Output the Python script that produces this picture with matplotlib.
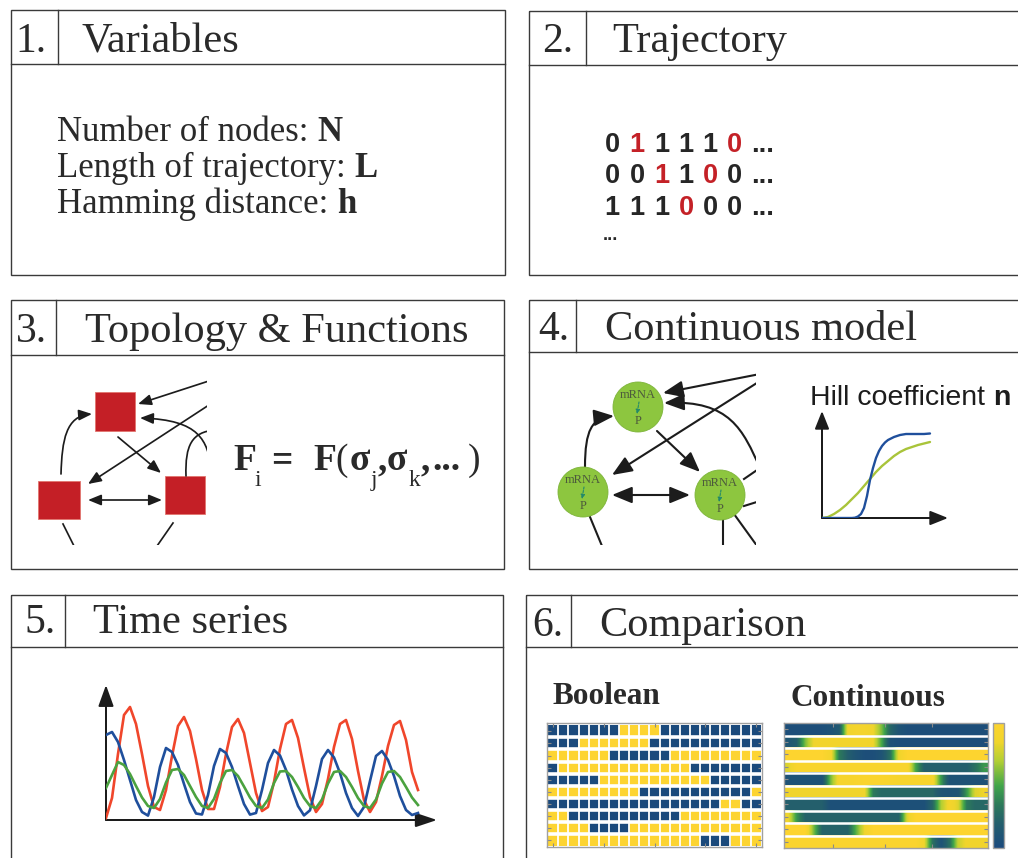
import numpy as np
import matplotlib
matplotlib.use('Agg')
import matplotlib.pyplot as plt
from matplotlib.patches import Rectangle, Circle, FancyArrowPatch
from matplotlib.path import Path
from matplotlib.colors import ListedColormap, LinearSegmentedColormap, Normalize
from matplotlib.cm import ScalarMappable

# ---------------------------------------------------------------- data
panel_numbers = ['1.', '2.', '3.', '4.', '5.', '6.']
panel_titles = ['Variables', 'Trajectory', 'Topology & Functions',
                'Continuous model', 'Time series', 'Comparison']

variable_labels = ['Number of nodes: ', 'Length of trajectory: ', 'Hamming distance: ']
variable_symbols = ['N', 'L', 'h']

trajectory_states = [[0, 1, 1, 1, 1, 0],
                     [0, 0, 1, 1, 0, 0],
                     [1, 1, 1, 0, 0, 0]]
trajectory_flipped = [[0, 1, 0, 0, 0, 1],
                      [0, 0, 1, 0, 1, 0],
                      [0, 0, 0, 1, 0, 0]]

# formula pieces: text, is_subscript, bold
formula_pieces = [('F', False, True), ('i', True, False), ('=', False, True),
                  ('F', False, True), ('(', False, False), ('σ', False, True),
                  ('j', True, False), (',', False, True), ('σ', False, True),
                  ('k', True, False), (',', False, True), ('...', False, True),
                  (')', False, False)]

node_top_label = 'mRNA'
node_bottom_label = 'P'
hill_title = 'Hill coefficient '
hill_symbol = 'n'

hill_input = [0, 6, 12, 18, 24, 30, 33, 36, 39, 42, 45, 48, 51, 54, 57, 60, 63, 66,
              72, 78, 84, 90, 96, 102, 108]
hill_high_n = [0, 0, 0, 0, 0, 0, 0.3, 1.5, 4, 10, 22, 38, 50, 60, 67, 72, 75.5, 78,
               81, 83, 84, 84, 84, 84, 84.5]
hill_low_n = [0, 1, 4, 8, 13, 19, 22, 25, 28.5, 32, 35.5, 39, 42.5, 46, 49, 52, 54.5,
              57, 62, 66, 69, 71, 73, 74.5, 76]

ts_time = [0, 6, 12, 18, 24, 30, 36, 42, 48, 54, 60, 66, 72, 78, 84, 90, 96, 102,
           108, 114, 120, 126, 132, 138, 144, 150, 156, 162, 168, 174, 180, 186,
           192, 198, 204, 210, 216, 222, 228, 234, 240, 246, 252, 258, 264, 270,
           276, 282, 288, 294, 300, 306, 312]
ts_red = [2, 22, 66, 105, 113, 96, 66, 34, 13, 10, 30, 64, 94, 103, 89, 61, 30, 11,
          11, 33, 66, 93, 101, 87, 57, 27, 9, 13, 38, 71, 96, 100, 82, 52, 23, 8,
          16, 41, 73, 96, 100, 81, 49, 20, 8, 18, 44, 74, 95, 99, 80, 48, 30]
ts_blue = [85, 88, 78, 60, 40, 20, 8, 4.4, 23, 53, 72, 68, 55, 36, 18, 6.5, 5.5, 25,
           54, 71, 67, 53, 34, 16, 5.4, 7, 30, 57, 70, 64.5, 50, 30.5, 14, 4.6, 9.7,
           34, 61, 70, 62.5, 47, 27, 12, 4, 13, 39, 64, 69, 60, 44, 24, 10, 5, 7]
ts_green = [32, 45, 58, 55, 46, 34, 22.5, 14, 12, 21, 37.5, 50, 51, 45, 34, 23, 14,
            12, 21, 37, 49, 50, 44, 33.5, 22.5, 14, 12, 20.5, 37, 48.5, 49, 43, 33,
            22, 14, 12, 20.5, 36.5, 48, 49, 43, 33, 22, 14, 12, 20.5, 36.5, 48, 49,
            43, 33, 22.5, 15]

boolean_label = 'Boolean'
continuous_label = 'Continuous'
boolean_states = [
    [1, 1, 1, 1, 1, 1, 1, 0, 0, 0, 0, 1, 1, 1, 1, 1, 1, 1, 1, 1, 1],
    [1, 1, 1, 0, 0, 0, 0, 0, 0, 0, 1, 1, 1, 1, 1, 1, 1, 1, 1, 1, 1],
    [0, 0, 0, 0, 0, 0, 1, 1, 1, 1, 1, 1, 0, 0, 0, 0, 0, 0, 0, 0, 0],
    [1, 0, 0, 0, 0, 0, 0, 0, 0, 0, 0, 0, 0, 0, 1, 1, 1, 1, 1, 1, 1],
    [1, 1, 1, 1, 1, 0, 0, 0, 0, 0, 0, 0, 0, 0, 0, 0, 1, 1, 1, 1, 1],
    [0, 0, 0, 0, 0, 0, 0, 0, 0, 1, 1, 1, 1, 1, 1, 1, 1, 1, 1, 1, 0],
    [1, 1, 1, 1, 1, 1, 1, 1, 1, 1, 1, 1, 1, 1, 1, 1, 1, 0, 0, 1, 1],
    [0, 0, 1, 1, 1, 1, 1, 1, 1, 1, 1, 1, 1, 0, 0, 0, 0, 0, 0, 0, 0],
    [0, 0, 0, 0, 1, 1, 1, 1, 0, 0, 0, 0, 0, 0, 0, 0, 0, 0, 0, 0, 0],
    [0, 0, 0, 0, 0, 0, 0, 0, 0, 0, 0, 0, 0, 0, 0, 1, 1, 1, 0, 0, 0],
]
continuous_levels = [
    [0.05, 0.05, 0.05, 0.05, 0.05, 0.08, 0.15, 0.85, 0.9, 0.9, 0.85, 0.6, 0.25, 0.1,
     0.05, 0.05, 0.05, 0.05, 0.05, 0.05, 0.05, 0.05, 0.05, 0.05],
    [0.12, 0.2, 0.6, 0.85, 0.88, 0.88, 0.88, 0.88, 0.88, 0.88, 0.85, 0.5, 0.08, 0.05,
     0.05, 0.05, 0.05, 0.05, 0.05, 0.05, 0.05, 0.05, 0.05, 0.05],
    [1.0, 1.0, 1.0, 1.0, 1.0, 0.9, 0.35, 0.2, 0.1, 0.05, 0.05, 0.1, 0.3, 0.85, 1.0,
     1.0, 1.0, 1.0, 1.0, 1.0, 1.0, 1.0, 1.0, 1.0],
    [0.8, 0.95, 0.95, 0.95, 0.95, 0.95, 0.95, 0.95, 0.95, 0.95, 0.95, 0.95, 0.95, 0.95,
     0.95, 0.5, 0.2, 0.2, 0.2, 0.2, 0.2, 0.2, 0.3, 0.45],
    [0.08, 0.08, 0.08, 0.08, 0.08, 0.6, 0.92, 0.92, 0.95, 0.97, 0.97, 0.97, 0.95, 0.92,
     0.92, 0.92, 0.92, 0.92, 0.45, 0.08, 0.08, 0.08, 0.08, 0.08],
    [0.85, 0.85, 0.85, 0.85, 0.85, 0.85, 0.85, 0.85, 0.85, 0.85, 0.35, 0.25, 0.25, 0.25,
     0.25, 0.25, 0.25, 0.25, 0.12, 0.1, 0.12, 0.45, 0.8, 0.85],
    [0.2, 0.2, 0.2, 0.2, 0.2, 0.06, 0.06, 0.06, 0.06, 0.06, 0.06, 0.06, 0.06, 0.06,
     0.06, 0.06, 0.06, 0.25, 0.7, 0.9, 0.8, 0.35, 0.25, 0.25],
    [0.85, 0.45, 0.22, 0.22, 0.22, 0.22, 0.22, 0.22, 0.22, 0.22, 0.22, 0.22, 0.22, 0.22,
     0.8, 1.0, 1.0, 1.0, 1.0, 1.0, 1.0, 1.0, 1.0, 1.0],
    [1.0, 1.0, 1.0, 0.6, 0.22, 0.22, 0.22, 0.22, 0.55, 0.85, 1.0, 1.0, 1.0, 1.0, 1.0,
     1.0, 1.0, 1.0, 1.0, 1.0, 1.0, 1.0, 1.0, 1.0],
    [0.97, 0.97, 0.97, 0.97, 0.97, 0.97, 0.97, 0.97, 0.97, 0.97, 0.97, 0.97, 0.97, 0.97,
     0.97, 0.97, 0.85, 0.3, 0.08, 0.3, 0.75, 0.87, 0.87, 0.87],
]

# ---------------------------------------------------------------- styles
W, H = 1018, 858
BOX = '#3a3a3a'
INK = '#1c1c1c'
TXT = '#2a2a2a'
RED = '#c42127'
SQ_RED = '#c41f26'
NODE_GREEN = '#8dc63f'
TS_RED = '#f0462b'
TS_BLUE = '#1f4f9c'
TS_GREEN = '#4ba23f'
HILL_GREEN = '#a9c43a'
BOOL_BLUE = '#1b4a7c'
BOOL_YELLOW = '#fdd431'
SERIF = 'Liberation Serif'
SANS = 'Liberation Sans'

fig = plt.figure(figsize=(W / 100, H / 100), dpi=100)
base = fig.add_axes([0, 0, 1, 1])
base.set_xlim(0, W)
base.set_ylim(H, 0)
base.axis('off')
renderer = fig.canvas.get_renderer()


def px_axes(x0, y0, x1, y1):
    a = fig.add_axes([x0 / W, 1 - y1 / H, (x1 - x0) / W, (y1 - y0) / H])
    a.patch.set_alpha(0)
    return a


def text_end(t):
    bb = t.get_window_extent(renderer=renderer)
    return base.transData.inverted().transform((bb.x1, bb.y0))[0]


def arrow(ax, p0=None, p1=None, lw_px=1.5, hl_px=10, hw_px=8, style='-|>',
          path=None, color=INK, clip=True):
    st = f'{style},head_length={hl_px * 0.72:.2f},head_width={hw_px * 0.36:.2f}'
    if path is not None:
        a = FancyArrowPatch(path=path, arrowstyle=st, mutation_scale=1,
                            lw=lw_px * 0.72, color=color)
    else:
        a = FancyArrowPatch(p0, p1, arrowstyle=st, mutation_scale=1,
                            lw=lw_px * 0.72, color=color, shrinkA=0, shrinkB=0)
    a.set_clip_on(clip)
    ax.add_patch(a)


def curve(pts):
    codes = [Path.MOVETO] + [Path.CURVE4] * (len(pts) - 1)
    return Path(pts, codes)


# ---------------------------------------------------------------- panel boxes
panel_geom = [
    # x0, y0, x1, y1, header_y, divider_x, num_x, title_x, baseline
    (11, 10, 505, 275, 64, 58, 15, 82, 52),
    (529, 11, 1030, 275, 65, 586, 542, 612, 52),
    (11, 300, 504, 569, 355, 56, 16, 85, 342),
    (529, 300, 1030, 569, 352, 576, 538, 605, 340),
    (11, 595, 503, 870, 647, 65, 24, 93, 633),
    (526, 595, 1030, 870, 647, 571, 532, 599, 636),
]
for (x0, y0, x1, y1, hy, dx, nx, tx, bl), num, title in zip(panel_geom, panel_numbers, panel_titles):
    base.add_patch(Rectangle((x0, y0), x1 - x0, y1 - y0, fill=False, ec=BOX, lw=1.0))
    base.plot([x0, x1], [hy, hy], color=BOX, lw=1.0)
    base.plot([dx, dx], [y0, hy], color=BOX, lw=1.0)
    base.text(nx, bl, num, fontsize=30, family=SERIF, color=TXT, va='baseline')
    base.text(tx, bl, title, fontsize=30.5, family=SERIF, color=TXT, va='baseline')

# ---------------------------------------------------------------- panel 1
for i, (lab, sym) in enumerate(zip(variable_labels, variable_symbols)):
    y = 141 + 36 * i
    t = base.text(57, y, lab, fontsize=25, family=SERIF, color=TXT, va='baseline')
    base.text(text_end(t), y, sym, fontsize=25, family=SERIF, fontweight='bold',
              color=TXT, va='baseline')

# ---------------------------------------------------------------- panel 2
col_x = [612, 637, 662, 686, 710, 734]
row_y = [152, 183, 215]
for r, (states, flips) in enumerate(zip(trajectory_states, trajectory_flipped)):
    for c, (s, f) in enumerate(zip(states, flips)):
        base.text(col_x[c], row_y[r], str(s), fontsize=19.5, family=SANS,
                  fontweight='bold', color=RED if f else '#262626', ha='center',
                  va='baseline')
    base.text(751, row_y[r], '...', fontsize=19.5, family=SANS, fontweight='bold',
              color='#262626', va='baseline')
base.text(603, 240, '...', fontsize=13, family=SANS, fontweight='bold',
          color='#262626', va='baseline')

# ---------------------------------------------------------------- panel 3
n3 = px_axes(20, 370, 207, 545)
n3.set_xlim(20, 207)
n3.set_ylim(545, 370)
n3.axis('off')
for (x, y, w, h) in [(95, 392, 40, 39), (38, 481, 42, 38), (165, 476, 40, 38)]:
    n3.add_patch(Rectangle((x, y), w, h, fc=SQ_RED, ec='#e2766f', lw=0.6))
A3 = dict(lw_px=1.7, hl_px=11, hw_px=9)
arrow(n3, (215, 379), (138, 404), **A3)
arrow(n3, (212, 403), (88, 484), **A3)
arrow(n3, (118, 437), (161, 473), **A3)
arrow(n3, (88, 500), (162, 500), style='<|-|>', **A3)
arrow(n3, path=curve([(212, 470), (207, 440), (200, 420), (140, 418)]), **A3)
arrow(n3, path=curve([(61, 474), (62, 440), (66, 416), (92, 414)]), **A3)
p = curve([(186, 476), (185, 445), (192, 432), (215, 430)])
n3.add_patch(FancyArrowPatch(path=p, arrowstyle='-', lw=1.7 * 0.72, color=INK))
n3.plot([63, 74], [524, 546], color=INK, lw=1.7 * 0.72)
n3.plot([173, 157], [523, 546], color=INK, lw=1.7 * 0.72)

# formula F_i = F(sigma_j, sigma_k, ...)
formula_x = [233, 255, 271, 313, 335, 350, 371, 378, 387, 409, 421, 432, 468]
for xp, (s, sub, bold) in zip(formula_x, formula_pieces):
    base.text(xp, 486 if sub else 470, s, fontsize=17 if sub else 27, family=SERIF,
              fontweight='bold' if bold else 'normal', color=TXT, va='baseline')

# ---------------------------------------------------------------- panel 4
n4 = px_axes(545, 372, 756, 545)
n4.set_xlim(545, 756)
n4.set_ylim(545, 372)
n4.axis('off')
A4 = dict(lw_px=2.1, hl_px=17, hw_px=14)
arrow(n4, (760, 374), (663, 393), **A4)
arrow(n4, (760, 381), (612, 475), **A4)
arrow(n4, (657, 431), (700, 472), **A4)
arrow(n4, (612, 495), (690, 495), style='<|-|>', **A4)
arrow(n4, path=curve([(760, 468), (743, 430), (730, 400), (664, 403)]), **A4)
arrow(n4, path=curve([(585, 467), (585, 430), (592, 418), (614, 416)]), **A4)
n4.plot([744, 760], [479, 468], color=INK, lw=1.5)
n4.plot([744, 760], [506, 501], color=INK, lw=1.5)
n4.plot([590, 602], [517, 546], color=INK, lw=1.5)
n4.plot([723, 723], [520, 546], color=INK, lw=1.5)
n4.plot([734, 760], [514, 550], color=INK, lw=1.5)
for (cx, cy) in [(638, 407), (583, 492), (720, 495)]:
    n4.add_patch(Circle((cx, cy), 25, fc=NODE_GREEN, ec='#7db43a', lw=0.6, zorder=3))
    n4.text(cx, cy - 12, node_top_label, fontsize=9, family=SERIF, color='#4d5a3c',
            ha='center', va='center', zorder=4)
    n4.text(cx, cy + 14, node_bottom_label, fontsize=9, family=SERIF, color='#4d5a3c',
            ha='center', va='center', zorder=4)
    n4.add_patch(FancyArrowPatch((cx + 1, cy - 5), (cx - 1, cy + 7),
                                 arrowstyle='-|>,head_length=2.5,head_width=1.2',
                                 mutation_scale=1, lw=0.8, ls=(0, (2, 1.2)),
                                 color='#22896a', shrinkA=0, shrinkB=0, zorder=4))

t = base.text(810, 405, hill_title, fontsize=20.5, family=SANS, color=INK, va='baseline')
base.text(text_end(t), 405, hill_symbol, fontsize=20.5, family=SANS, fontweight='bold',
          color=INK, va='baseline')

hx = px_axes(822, 405, 955, 518)
hx.set_xlim(0, 133)
hx.set_ylim(0, 113)
hx.axis('off')
arrow(hx, (0, 0), (0, 107), lw_px=2.0, hl_px=15, hw_px=12, clip=False)
arrow(hx, (0, 0), (126, 0), lw_px=2.0, hl_px=15, hw_px=12, clip=False)
hx.plot(hill_input, hill_low_n, color=HILL_GREEN, lw=1.7, solid_capstyle='round')
hx.plot(hill_input, hill_high_n, color=TS_BLUE, lw=1.7, solid_capstyle='round')

# ---------------------------------------------------------------- panel 5
tx_ = px_axes(106, 680, 440, 820)
tx_.set_xlim(0, 334)
tx_.set_ylim(0, 140)
tx_.axis('off')
tx_.plot(ts_time, ts_red, color=TS_RED, lw=1.9)
tx_.plot(ts_time, ts_blue, color=TS_BLUE, lw=1.9)
tx_.plot(ts_time, ts_green, color=TS_GREEN, lw=1.9)
arrow(tx_, (0, 0), (0, 135), lw_px=2.0, hl_px=18, hw_px=13, clip=False)
arrow(tx_, (0, 0), (331, 0), lw_px=2.0, hl_px=18, hw_px=12, clip=False)

# ---------------------------------------------------------------- panel 6
base.text(553, 704, boolean_label, fontsize=22.5, family=SERIF, fontweight='bold',
          color=TXT, va='baseline')
base.text(791, 706, continuous_label, fontsize=22.5, family=SERIF, fontweight='bold',
          color=TXT, va='baseline')

grid = np.array(boolean_states)
nrow, ncol = grid.shape
bx = px_axes(547, 723, 762, 847)
bx.imshow(grid, cmap=ListedColormap([BOOL_YELLOW, BOOL_BLUE]), vmin=0, vmax=1,
          aspect='auto', interpolation='nearest',
          extent=(-0.5, ncol - 0.5, nrow - 0.5, -0.5))
for c in range(1, ncol):
    bx.axvline(c - 0.5, color='white', lw=1.3)
for r in range(1, nrow):
    bx.axhline(r - 0.5, color='white', lw=2.6)
bx.set_xlim(-0.62, ncol - 0.38)
bx.set_ylim(nrow - 0.4, -0.7)
bx.patch.set_alpha(1)
bx.set_xticks([0, 5, 10, 15, 20])
bx.set_yticks(range(nrow))
bx.tick_params(direction='in', length=3, color='#8a8a8a', top=True, bottom=True,
               left=True, right=True, labelbottom=False, labelleft=False)
for s in bx.spines.values():
    s.set_color('#a0a0a0')
    s.set_linewidth(1.0)

cmap_c = LinearSegmentedColormap.from_list(
    'cont', [(0.0, '#1b4a7e'), (0.2, '#245f6c'), (0.35, '#2d7a5a'), (0.5, '#41a64a'),
             (0.7, '#b3cf33'), (0.85, '#f0d52c'), (1.0, '#fdd42f')])
lev = np.array(continuous_levels)
cx_ = px_axes(784, 723, 988, 848)
for r in range(lev.shape[0]):
    cx_.imshow(lev[r:r + 1], cmap=cmap_c, vmin=0, vmax=1, aspect='auto',
               interpolation='bilinear', extent=(0, lev.shape[1], r + 1, r))
for r in range(1, lev.shape[0]):
    cx_.axhline(r, color='white', lw=1.8)
cx_.set_xlim(0, lev.shape[1])
cx_.set_ylim(lev.shape[0], 0)
cx_.set_xticks([5.76, 11.9, 17.4])
cx_.set_yticks([r + 0.5 for r in range(lev.shape[0])])
cx_.tick_params(direction='in', length=3, color='#8a8a8a', top=True, bottom=True,
                left=True, right=True, labelbottom=False, labelleft=False)
for s in cx_.spines.values():
    s.set_color('#a0a0a0')
    s.set_linewidth(1.0)

cb_ax = px_axes(993, 723, 1004, 848)
cb = fig.colorbar(ScalarMappable(norm=Normalize(0, 1), cmap=cmap_c), cax=cb_ax, ticks=[])
cb.outline.set_edgecolor('#a0a0a0')
cb.outline.set_linewidth(1.0)

fig.savefig('out.png', dpi=100)
